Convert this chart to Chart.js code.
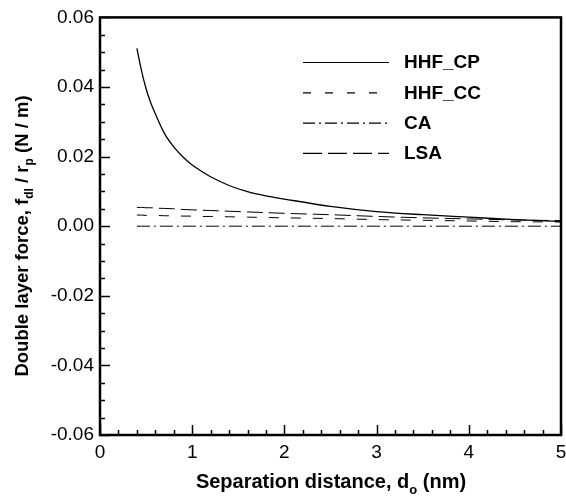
<!DOCTYPE html>
<html>
<head>
<meta charset="utf-8">
<script src="https://cdn.jsdelivr.net/npm/chart.js@4"></script>
<style>
  html, body { margin: 0; padding: 0; background: #fff; }
  #wrap { width: 566px; height: 499px; }
</style>
</head>
<body>
<div id="wrap"><canvas id="chart" width="566" height="499"></canvas></div>
<script>
// separation distance (nm) where values were read
const separation = [0.4, 0.45, 0.5, 0.55, 0.6, 0.7, 0.8, 0.9, 1.0, 1.1, 1.2, 1.4, 1.6, 1.8, 2.0, 2.5, 3.0, 3.5, 4.0, 4.5, 5.0];
// double layer force / rp (N/m)
const hhfCp = [0.0511, 0.0447, 0.0395, 0.0355, 0.0323, 0.0266, 0.0228, 0.0199, 0.0176, 0.0158, 0.0142, 0.0117, 0.0099, 0.0087, 0.0078, 0.0057, 0.0042, 0.0033, 0.0026, 0.0019, 0.0014];
const hhfCc = [0.0032, 0.0032, 0.0031, 0.0031, 0.0031, 0.0030, 0.0030, 0.0029, 0.0029, 0.0028, 0.0028, 0.0027, 0.0026, 0.0025, 0.0024, 0.0022, 0.0019, 0.0017, 0.0015, 0.0013, 0.0012];
const ca    = [0, 0, 0, 0, 0, 0, 0, 0, 0, 0, 0, 0, 0, 0, 0, 0, 0, 0, 0, 0, 0];
const lsa   = [0.0054, 0.0054, 0.0053, 0.0053, 0.0052, 0.0051, 0.0050, 0.0048, 0.0047, 0.0046, 0.0045, 0.0043, 0.0041, 0.0039, 0.0037, 0.0033, 0.0028, 0.0024, 0.0021, 0.0018, 0.0016];
const seriesNames = ["HHF_CP", "HHF_CC", "CA", "LSA"];
const yMajorLabels = [-0.06, -0.04, -0.02, 0.00, 0.02, 0.04, 0.06];
const xMajorLabels = [0, 1, 2, 3, 4, 5];

const FONT = "'Liberation Sans', Arial, Helvetica, sans-serif";

function toPoints(ys) {
    return separation.map((x, i) => ({ x: x, y: ys[i] }));
}
function isMultiple(v, step) {
    return Math.abs(Math.round(v / step) * step - v) < 1e-9;
}

// inward tick marks, major and minor
const tickMarks = {
    id: 'tickMarks',
    afterDraw(chart) {
        const ctx = chart.ctx;
        const area = chart.chartArea;
        const xs = chart.scales.x, ys = chart.scales.y;
        ctx.save();
        ctx.strokeStyle = '#000';
        ctx.lineWidth = 1.5;
        ctx.beginPath();
        for (let i = 0; i <= 24; i++) {
            const v = -0.06 + i * 0.005;
            const py = Math.round(ys.getPixelForValue(v)) + 0.5;
            const len = isMultiple(v, 0.02) ? 10 : 5;
            ctx.moveTo(area.left, py);
            ctx.lineTo(area.left + len, py);
        }
        for (let i = 0; i <= 25; i++) {
            const v = i * 0.2;
            const px = Math.round(xs.getPixelForValue(v)) + 0.5;
            const len = isMultiple(v, 1) ? 10 : 5;
            ctx.moveTo(px, area.bottom);
            ctx.lineTo(px, area.bottom - len);
        }
        ctx.stroke();
        // frame
        ctx.lineWidth = 2.5;
        ctx.strokeRect(area.left, area.top, area.right - area.left, area.bottom - area.top);
        ctx.restore();
    }
};

// axis titles with subscripts
function drawSubText(ctx, parts, x, y, size) {
    const main = "bold " + size + "px " + FONT, sub = "bold " + Math.round(size * 0.65) + "px " + FONT;
    let total = 0;
    parts.forEach(p => { ctx.font = p.sub ? sub : main; total += ctx.measureText(p.t).width; });
    let cx = x - total / 2;
    parts.forEach(p => {
        ctx.font = p.sub ? sub : main;
        ctx.fillText(p.t, cx, p.sub ? y + size * 0.28 : y);
        cx += ctx.measureText(p.t).width;
    });
}
const axisTitles = {
    id: 'axisTitles',
    afterDraw(chart) {
        const ctx = chart.ctx;
        ctx.save();
        ctx.fillStyle = '#000';
        ctx.textAlign = 'left';
        ctx.textBaseline = 'alphabetic';
        drawSubText(ctx, [
            { t: "Separation distance, d" }, { t: "o", sub: true }, { t: " (nm)" }
        ], 331, 488, 20);
        ctx.translate(28, 236);
        ctx.rotate(-Math.PI / 2);
        drawSubText(ctx, [
            { t: "Double layer force, f" }, { t: "dl", sub: true }, { t: " / r" }, { t: "p", sub: true }, { t: " (N / m)" }
        ], 0, 0, 18.5);
        ctx.restore();
    }
};

// legend drawn inside the plot
const innerLegend = {
    id: 'innerLegend',
    afterDraw(chart) {
        const ctx = chart.ctx;
        ctx.save();
        chart.data.datasets.forEach((ds, i) => {
            const y = 62 + i * 30.3;
            ctx.strokeStyle = '#000';
            ctx.lineWidth = 1.2;
            ctx.setLineDash(ds.legendDash || []);
            ctx.beginPath();
            ctx.moveTo(303, y + 0.5);
            ctx.lineTo(389, y + 0.5);
            ctx.stroke();
            ctx.setLineDash([]);
            ctx.fillStyle = '#000';
            ctx.font = "bold 19px " + FONT;
            ctx.textBaseline = 'middle';
            ctx.fillText(ds.label, 404, y + 1);
        });
        ctx.restore();
    }
};

const ctx = document.getElementById("chart");
new Chart(ctx, {
    type: "line",
    data: {
        datasets: [
            { label: seriesNames[0], data: toPoints(hhfCp), borderColor: "#000", borderWidth: 1.3, borderDash: [], legendDash: [] },
            { label: seriesNames[1], data: toPoints(hhfCc), borderColor: "#000", borderWidth: 1, borderDash: [10, 12], legendDash: [8, 14] },
            { label: seriesNames[2], data: toPoints(ca), borderColor: "#000", borderWidth: 1, borderDash: [13, 4, 2, 4], legendDash: [12, 4, 2, 4] },
            { label: seriesNames[3], data: toPoints(lsa), borderColor: "#000", borderWidth: 1, borderDash: [16, 6], legendDash: [19, 6] }
        ]
    },
    options: {
        responsive: false,
        animation: false,
        devicePixelRatio: 1,
        layout: { padding: { top: 15, right: 5, left: 0, bottom: 0 } },
        elements: {
            point: { radius: 0 },
            line: { fill: false, cubicInterpolationMode: "monotone" }
        },
        plugins: {
            legend: { display: false },
            tooltip: { enabled: false }
        },
        scales: {
            x: {
                type: "linear",
                min: 0,
                max: 5,
                grid: { display: false, drawTicks: false },
                border: { display: false },
                ticks: {
                    stepSize: 1,
                    padding: 6,
                    color: "#000",
                    font: { family: FONT, size: 19 },
                    maxRotation: 0,
                    callback: (v) => xMajorLabels.includes(v) ? String(v) : ""
                },
                afterFit: (s) => { s.height = 64; s.paddingRight = 0; s.paddingLeft = 0; }
            },
            y: {
                type: "linear",
                min: -0.06,
                max: 0.06,
                grid: { display: false, drawTicks: false },
                border: { display: false },
                ticks: {
                    stepSize: 0.02,
                    padding: 6,
                    color: "#000",
                    font: { family: FONT, size: 19 },
                    callback: (v) => yMajorLabels.some(m => Math.abs(m - v) < 1e-9) ? v.toFixed(2) : ""
                },
                afterFit: (s) => { s.width = 100; }
            }
        }
    },
    plugins: [tickMarks, axisTitles, innerLegend]
});
</script>
</body>
</html>
